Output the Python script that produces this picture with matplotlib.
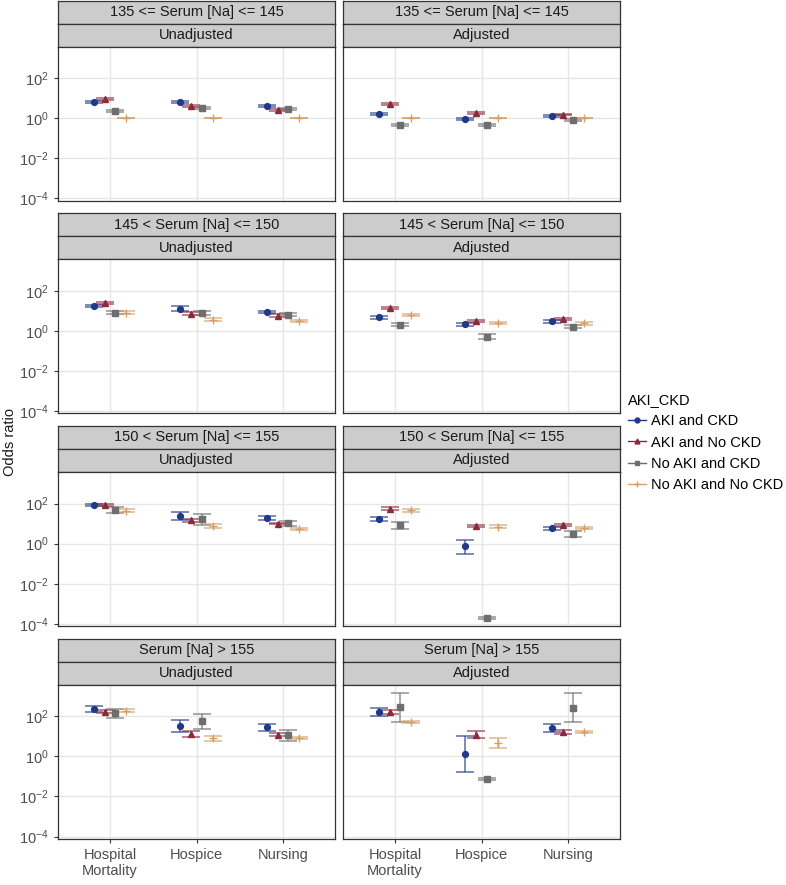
import matplotlib.pyplot as plt
import numpy as np
from matplotlib.lines import Line2D

plt.rcParams["font.family"] = ["Liberation Sans", "DejaVu Sans"]
plt.rcParams["mathtext.fontset"] = "custom"
plt.rcParams["mathtext.rm"] = "Liberation Sans"
plt.rcParams["mathtext.it"] = "Liberation Sans:italic"
plt.rcParams["mathtext.bf"] = "Liberation Sans:bold"

outcomes = ["Hospital\nMortality", "Hospice", "Nursing"]
sodium_groups = [
    "135 <= Serum [Na] <= 145",
    "145 < Serum [Na] <= 150",
    "150 < Serum [Na] <= 155",
    "Serum [Na] > 155",
]
adjustments = ["Unadjusted", "Adjusted"]
groups = ["AKI and CKD", "AKI and No CKD", "No AKI and CKD", "No AKI and No CKD"]

# odds ratios [sodium][adjustment][outcome]
aki_ckd_or = [[[6.3, 6.3, 4.1], [1.65, 0.9, 1.26]],
              [[17.8, 13, 8.6], [4.8, 2.2, 3.0]],
              [[85, 24, 18.5], [17, 0.74, 5.8]],
              [[234, 33, 28], [165, 1.35, 25]]]
aki_ckd_lo = [[[5.6, 5.5, 3.7], [1.45, 0.78, 1.12]],
              [[15.5, 10, 7.5], [4.1, 1.85, 2.6]],
              [[75, 16, 14.7], [13, 0.32, 5.0]],
              [[165, 16, 19], [108, 0.17, 16]]]
aki_ckd_hi = [[[7.1, 7.2, 4.6], [1.9, 1.05, 1.42]],
              [[20.5, 17, 9.8], [5.6, 2.6, 3.4]],
              [[97, 36, 23], [22, 1.58, 6.7]],
              [[330, 68, 41], [250, 10.7, 39]]]

aki_nockd_or = [[[9, 4, 2.6], [5, 1.8, 1.5]],
                [[24, 7.4, 5.9], [14, 3.2, 3.8]],
                [[83, 14.6, 10], [56, 7.6, 8.5]],
                [[165, 13, 12], [158, 12, 16.5]]]
aki_nockd_lo = [[[8.2, 3.6, 2.4], [4.5, 1.65, 1.38]],
                [[21, 6.3, 5.2], [12.3, 2.8, 3.4]],
                [[72, 12, 9.1], [48, 6.5, 7.5]],
                [[140, 9.5, 10], [128, 8.2, 13]]]
aki_nockd_hi = [[[9.9, 4.4, 2.85], [5.5, 1.95, 1.63]],
                [[27, 8.7, 6.7], [16, 3.7, 4.3]],
                [[95, 17.8, 11], [65, 8.9, 9.6]],
                [[195, 18, 14.4], [195, 17.5, 21]]]

noaki_ckd_or = [[[2.2, 3.2, 2.9], [0.45, 0.45, 0.83]],
                [[8.3, 8, 6.6], [2.1, 0.52, 1.66]],
                [[48, 16.5, 10.3], [9, 1.9e-4, 3.0]],
                [[141, 58, 11.6], [295, 0.074, 270]]]
noaki_ckd_lo = [[[1.95, 2.85, 2.6], [0.4, 0.4, 0.74]],
                [[7.0, 6.6, 5.8], [1.8, 0.38, 1.4]],
                [[34, 8.5, 7.8], [5.2, 1.7e-4, 2.2]],
                [[79, 24, 6.0], [52, 0.066, 52]]]
noaki_ckd_hi = [[[2.5, 3.6, 3.25], [0.51, 0.51, 0.93]],
                [[9.8, 9.7, 7.5], [2.45, 0.72, 1.95]],
                [[68, 32, 13.6], [12.6, 2.1e-4, 4.1]],
                [[240, 135, 21], [1470, 0.083, 1470]]]

noaki_nockd_or = [[[1, 1, 1], [1, 1, 1]],
                  [[8.3, 3.7, 3.2], [6.3, 2.5, 2.4]],
                  [[45, 7.6, 5.2], [46, 7.1, 6.0]],
                  [[190, 8, 8.3], [50, 4.6, 16.5]]]
noaki_nockd_lo = [[[1, 1, 1], [1, 1, 1]],
                  [[7.2, 3.3, 2.85], [5.6, 2.2, 2.1]],
                  [[39, 6.0, 4.6], [40, 6.0, 5.2]],
                  [[160, 6.0, 7.0], [44, 2.5, 14.5]]]
noaki_nockd_hi = [[[1, 1, 1], [1, 1, 1]],
                  [[9.6, 4.2, 3.6], [7.1, 2.85, 2.75]],
                  [[52, 9.6, 5.9], [53, 8.4, 6.9]],
                  [[225, 10.6, 9.8], [56, 8.5, 18.8]]]

series = [
    (aki_ckd_or, aki_ckd_lo, aki_ckd_hi),
    (aki_nockd_or, aki_nockd_lo, aki_nockd_hi),
    (noaki_ckd_or, noaki_ckd_lo, noaki_ckd_hi),
    (noaki_nockd_or, noaki_nockd_lo, noaki_nockd_hi),
]
colors = ["#1f3a88", "#8c2a3c", "#6e6e6e", "#d4a068"]
markers = ["o", "^", "s", "+"]
offsets = [-0.1875, -0.0625, 0.0625, 0.1875]

W, H = 786, 885
fig = plt.figure(figsize=(W / 100, H / 100), dpi=100)


def px_axes(x0, y0, x1, y1):
    return fig.add_axes([x0 / W, 1 - y1 / H, (x1 - x0) / W, (y1 - y0) / H])


col_x = [(58, 335), (343, 620)]
row_step = 212.7
x = np.arange(1, 4)

for r in range(4):
    top = 0.5 + r * row_step
    for c in range(2):
        x0, x1 = col_x[c]
        # two stacked strips per panel
        for k, label in enumerate([sodium_groups[r], adjustments[c]]):
            sax = px_axes(x0, top + k * 23, x1, top + (k + 1) * 23)
            sax.set_facecolor("#cccccc")
            sax.set_xticks([])
            sax.set_yticks([])
            for sp in sax.spines.values():
                sp.set_color("#333333")
                sp.set_linewidth(0.9)
            sax.text(0.5, 0.5, label, ha="center", va="center", fontsize=10.5,
                     color="#1a1a1a", transform=sax.transAxes)

        ax = px_axes(x0, top + 46, x1, top + 200)
        ax.set_yscale("log")
        ax.set_ylim(10 ** -4.1, 10 ** 3.58)
        ax.set_xlim(0.4, 3.6)
        ax.set_xticks(x)
        ax.set_yticks([1e-4, 1e-2, 1, 1e2])
        ax.minorticks_off()
        ax.grid(True, color="#e6e6e6", linewidth=1.0)
        ax.set_axisbelow(True)
        for sp in ax.spines.values():
            sp.set_color("#333333")
            sp.set_linewidth(0.9)

        for g, (orv, lov, hiv) in enumerate(series):
            y = np.array(orv[r][c])
            lo = np.array(lov[r][c])
            hi = np.array(hiv[r][c])
            ax.errorbar(x + offsets[g], y, yerr=[y - lo, hi - y], fmt="none",
                        ecolor=colors[g], elinewidth=1.1, capsize=6.2,
                        capthick=1.1, alpha=0.75, zorder=3)
            ax.plot(x + offsets[g], y, linestyle="none", marker=markers[g],
                    color=colors[g], markersize=6 if markers[g] == "+" else 4.2,
                    markeredgewidth=1.0, zorder=4)

        ax.tick_params(axis="both", length=3, color="#333333", labelsize=10.5,
                       labelcolor="#4d4d4d", width=0.8)
        if c == 0:
            ax.set_yticklabels(["10$^{-4}$", "10$^{-2}$", "10$^{0}$", "10$^{2}$"])
        else:
            ax.tick_params(axis="y", length=0, labelleft=False)
        if r == 3:
            ax.set_xticklabels(outcomes)
        else:
            ax.tick_params(axis="x", length=0, labelbottom=False)

fig.text(10 / W, 1 - 442 / H, "Odds ratio", rotation=90, ha="center", va="center",
         fontsize=10.5, color="#1a1a1a")

handles = [Line2D([0], [0], color=colors[g], marker=markers[g], lw=1.0,
                  markersize=5 if markers[g] == "+" else 3.5)
           for g in range(4)]
leg = fig.legend(handles, groups, title="AKI_CKD", loc="upper left",
                 bbox_to_anchor=(628 / W, 1 - 393 / H), frameon=False,
                 borderpad=0, borderaxespad=0,
                 fontsize=10.5, title_fontsize=10.5, handlelength=1.25,
                 handletextpad=0.35, labelspacing=0.5, alignment="left")

fig.savefig("out.png", dpi=100)
